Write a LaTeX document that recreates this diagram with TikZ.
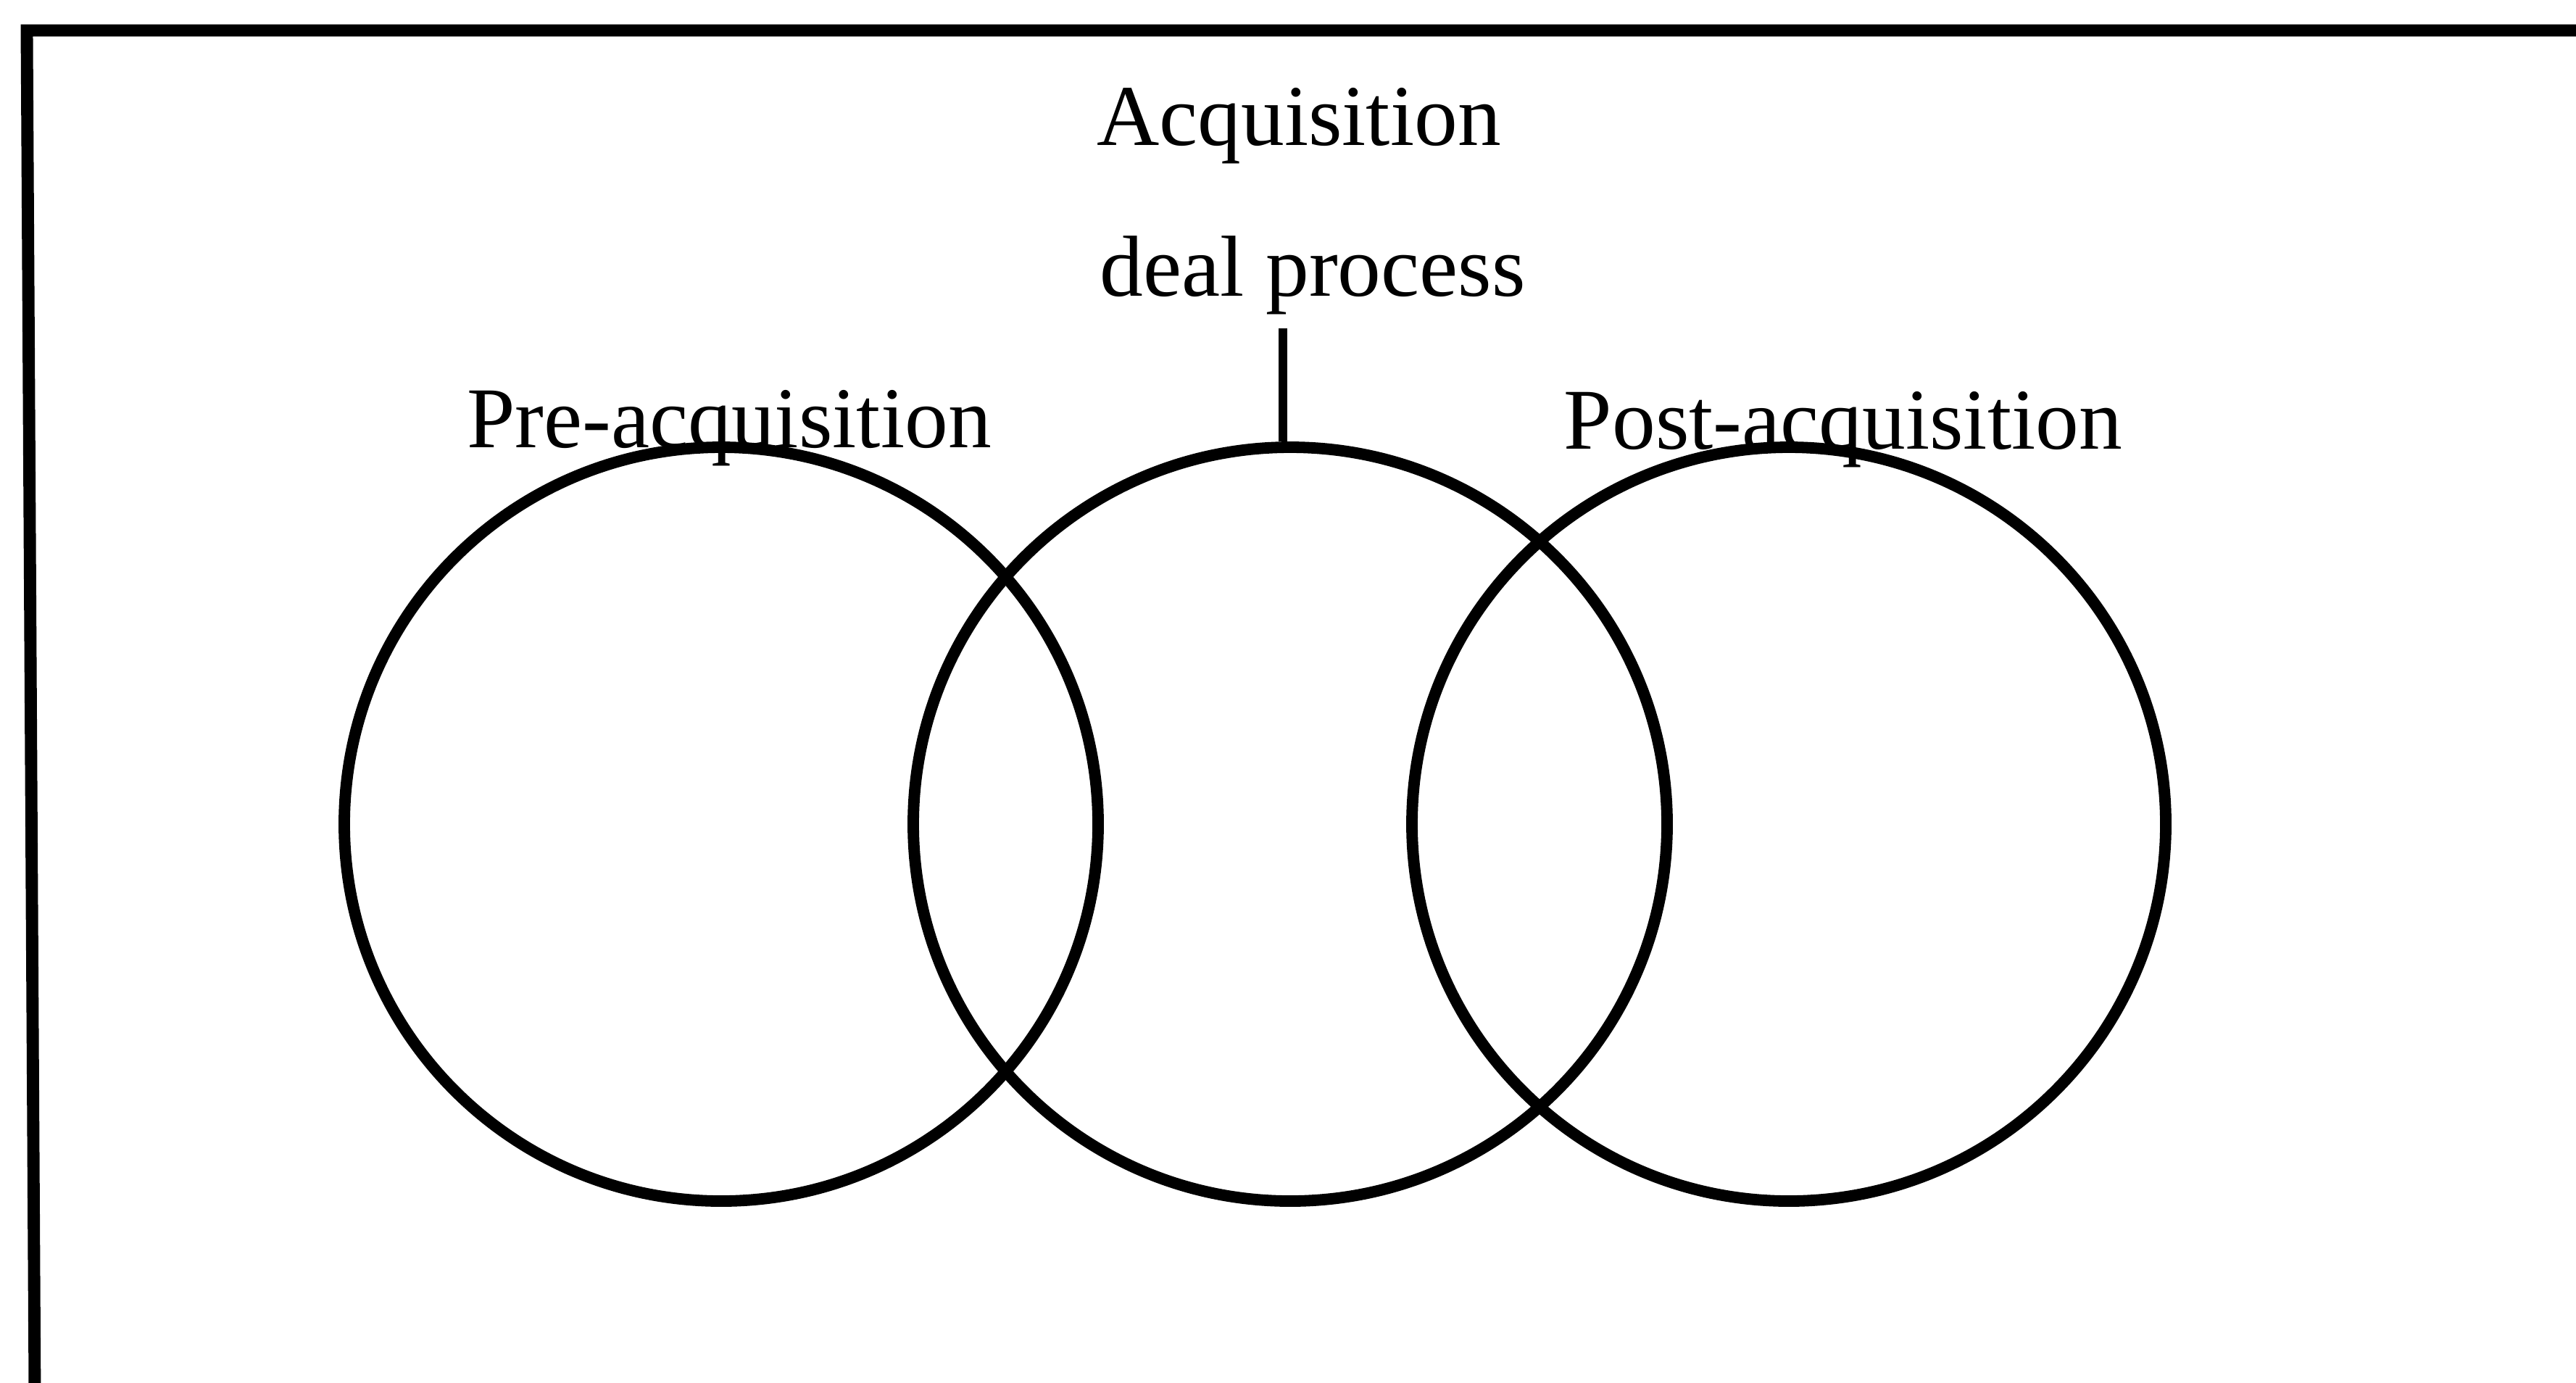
\documentclass[tikz,border=0pt]{standalone}
\usepackage{fontspec}
\setmainfont{Liberation Serif}
\tikzset{
    ring/.style={draw=black, circle, minimum size=10.40cm, inner sep=0pt, line width=4.5pt},
    phase/.style={anchor=base, inner sep=0pt, font=\fontsize{34}{40}\selectfont},
}

\begin{document}
\begin{tikzpicture}
            \useasboundingbox                                  ( 0.00,  0.00) rectangle (35.54,-19.07);
            \draw[line width=4.8pt]                            (35.60, -0.42) -- (0.37,-0.42) -- (0.48,-19.20);
            \node[ring]  (pre)     at                          ( 9.95,-11.37) {};
            \node[ring]  (mid)     at                          (17.80,-11.37) {};
            \node[ring]  (post)    at                          (24.68,-11.37) {};
            \node[phase] (acqL)    at                          (17.92, -2.00) {Acquisition};
            \node[phase] (dealL)   at                          (18.11, -4.08) {deal process};
            \node[phase] (preL)    at                          (10.06, -6.17) {Pre-acquisition};
            \node[phase] (postL)   at                          (25.43, -6.19) {Post-acquisition};
            \coordinate  (tick)    at                          (17.70, -4.53);
            \draw[line width=3.5pt] (tick) -- (tick |- mid.north);
            \end{tikzpicture}
\end{document}
